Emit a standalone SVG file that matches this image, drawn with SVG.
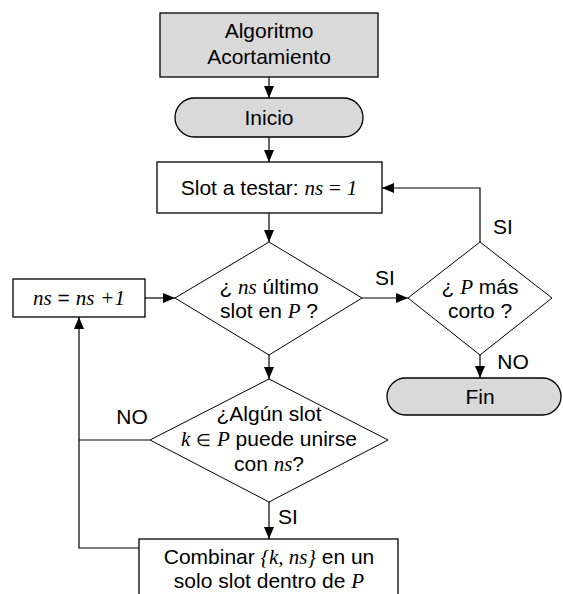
<svg xmlns="http://www.w3.org/2000/svg" width="563" height="594" viewBox="0 0 563 594">
<defs>
<marker id="ah" viewBox="0 0 12 10" refX="12" refY="5" markerWidth="12" markerHeight="10" markerUnits="userSpaceOnUse" orient="auto">
<path d="M0,0 L12,5 L0,10 Z" fill="#000"/>
</marker>
<style>
.box{fill:#fff;stroke:#000;stroke-width:1.3}
.gray{fill:#d9d9d9;stroke:#000;stroke-width:1.3}
.dia{fill:#fff;stroke:#000;stroke-width:1}
.ln{fill:none;stroke:#000;stroke-width:1.2}
.arr{fill:none;stroke:#000;stroke-width:1.2;marker-end:url(#ah)}
text{font-family:"Liberation Sans",Arial,sans-serif;font-size:21px;fill:#000}
.c{text-anchor:middle}
.m{font-family:"Liberation Serif","Times New Roman",serif;font-style:italic}
.s{font-family:"Liberation Serif","Times New Roman",serif}
</style>
</defs>
<rect width="563" height="594" fill="#fff"/>
<g id="connectors">
<line class="arr" x1="269" y1="77" x2="269" y2="98"/>
<line class="arr" x1="269" y1="137" x2="269" y2="162"/>
<line class="arr" x1="269" y1="213" x2="269" y2="242"/>
<line class="arr" x1="269" y1="355" x2="269" y2="379"/>
<line class="arr" x1="362" y1="298" x2="408" y2="298"/>
<polyline class="arr" points="480,242 480,188 382,188"/>
<line class="arr" x1="480" y1="355" x2="480" y2="378"/>
<line class="arr" x1="269" y1="502" x2="269" y2="539"/>
<line class="ln" x1="150" y1="440" x2="79" y2="440"/>
<polyline class="arr" points="139,548 79,548 79,317"/>
<line class="arr" x1="145" y1="298" x2="175" y2="298"/>
<text x="385" y="285" class="c">SI</text>
<text x="503" y="234" class="c">SI</text>
<text x="513" y="369" class="c">NO</text>
<text x="132" y="424" class="c">NO</text>
<text x="288" y="524" class="c">SI</text>
</g>
<g id="n-algoritmo">
<rect class="gray" x="160" y="13" width="218" height="64"/>
<text x="269" y="38" class="c">Algoritmo</text>
<text x="269" y="64" class="c">Acortamiento</text>
</g>
<g id="n-inicio">
<rect class="gray" x="175" y="98" width="188" height="39" rx="19.5"/>
<text x="269" y="125" class="c">Inicio</text>
</g>
<g id="n-slot">
<rect class="box" x="157" y="162" width="225" height="51"/>
<text x="269" y="195" class="c">Slot a testar: <tspan class="m">ns</tspan> <tspan class="s">=</tspan> <tspan class="m">1</tspan></text>
</g>
<g id="n-ultimo">
<polygon class="dia" points="269,242 362,298 269,355 175,298"/>
<text x="269" y="294" class="c">¿ <tspan class="m">ns</tspan> último</text>
<text x="269" y="318" class="c">slot en <tspan class="m">P</tspan> ?</text>
</g>
<g id="n-inc">
<rect class="box" x="13" y="279" width="132" height="38"/>
<text x="79" y="305" class="c"><tspan class="m">ns</tspan> = <tspan class="m">ns</tspan> <tspan class="m">+1</tspan></text>
</g>
<g id="n-corto">
<polygon class="dia" points="480,242 552,298 480,355 408,298"/>
<text x="480" y="294" class="c">¿ <tspan class="m">P</tspan> más</text>
<text x="480" y="318" class="c">corto ?</text>
</g>
<g id="n-fin">
<rect class="gray" x="387" y="378" width="174" height="37" rx="18.5"/>
<text x="480" y="404" class="c">Fin</text>
</g>
<g id="n-algun">
<polygon class="dia" points="269,379 388,440 269,502 150,440"/>
<text x="269" y="421" class="c">¿Algún slot</text>
<text x="269" y="446" class="c"><tspan class="m">k</tspan> <tspan class="s" font-size="17">∈</tspan> <tspan class="m">P</tspan> puede unirse</text>
<text x="269" y="471" class="c">con <tspan class="m">ns</tspan>?</text>
</g>
<g id="n-combinar">
<rect class="box" x="139" y="539" width="259" height="70"/>
<text x="269" y="564" class="c">Combinar <tspan class="m">{k, ns}</tspan> en un</text>
<text x="269" y="588" class="c">solo slot dentro de <tspan class="m">P</tspan></text>
</g>
</svg>
